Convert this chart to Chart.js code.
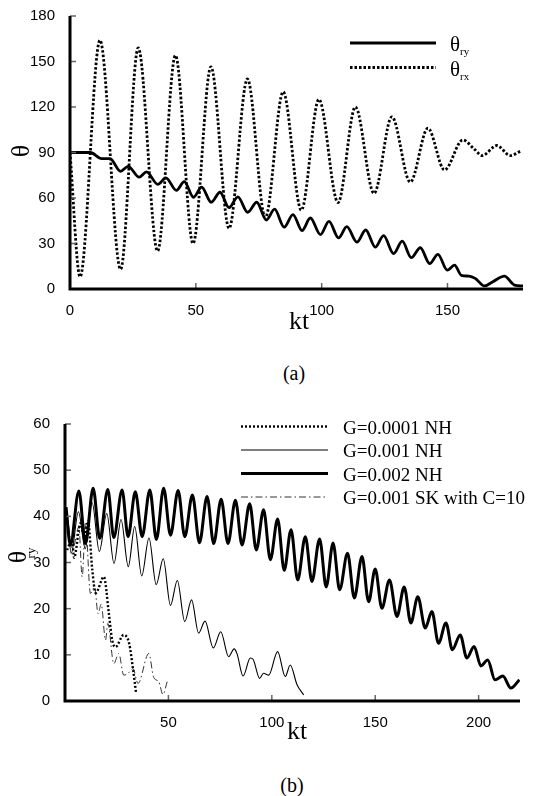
<!DOCTYPE html>
<html>
<head>
<meta charset="utf-8">
<script src="https://cdn.jsdelivr.net/npm/chart.js@4.4.1/dist/chart.umd.min.js"></script>
<style>
  body { margin: 0; background: #fff; width: 538px; height: 796px; position: relative; overflow: hidden; }
  canvas { position: absolute; left: 0; }
  #chartA { top: 0; }
  #chartB { top: 390px; }
  .cap { position: absolute; font-family: "Liberation Serif", "DejaVu Serif", serif; font-size: 20px; color: #000;
         transform: translate(-50%, -50%); }
</style>
</head>
<body>
<canvas id="chartA" width="538" height="340"></canvas>
<div class="cap" style="left:294px; top:373px">(a)</div>
<canvas id="chartB" width="538" height="360"></canvas>
<div class="cap" style="left:292px; top:785px">(b)</div>

<script>
// ---------- panel (a) ----------
const ktRy = [0, 8, 12.6, 15.9, 20.1, 23.1, 27.5, 30.4, 34.9, 38.1, 42.3, 45.4, 49.1, 52.3, 56.1, 59.6, 63.2, 66.7, 70.6, 74.2,
  78, 81.3, 85.1, 88.6, 92.2, 95.5, 99.5, 102.9, 106.7, 110, 114, 117.5, 121.3, 124.6, 128.6, 132, 135.6, 139.2, 142.9, 146.2,
  149.9, 152.8, 155.5, 158.5, 161, 164.7, 168, 172.6, 176.6, 180];
const thetaRy = [90, 90, 86, 85.9, 77.6, 80.9, 73.7, 77.2, 69, 73.3, 65, 70.8, 60.5, 67.2, 57.2, 63.8, 53.7, 60.7, 50.6, 57.2,
  45.5, 52.6, 40.8, 49.1, 38.5, 46.8, 35.9, 44.6, 33.7, 41.1, 30.9, 38.9, 27.6, 35.2, 23.3, 31.5, 20.7, 27.2, 16.8, 22.8,
  12.4, 15.7, 9, 8.5, 7, 2, 4.8, 8.5, 2.6, 2];

const ktRx = [0, 4, 11.9, 20.1, 27.1, 34.8, 41.9, 48.9, 56, 63.2, 70.5, 77.6, 84.7, 91.9, 98.9, 106.5, 113.4, 120.8, 127.9, 135.2,
  142.2, 148.8, 156.1, 160.5, 163.8, 169.6, 174.9, 179.2];
const thetaRx = [90, 8, 164, 13, 159, 25, 154, 30, 146.5, 40, 138.5, 47, 130, 52, 125, 57, 120, 63, 113.5, 70.5,
  106, 78.5, 98.3, 92.5, 88, 94.6, 88, 91];

const xTicksA = [0, 50, 100, 150];
const yTicksA = [0, 30, 60, 90, 120, 150, 180];

// ---------- panel (b) ----------
const ktG1 = [1, 3.4, 4.4, 7.5, 9.3, 11.1, 13.2, 14.8, 18.8, 21.2, 22.8, 24.4, 28.4, 31, 33, 34.4];
const thG1 = [32.7, 34.9, 31, 38.5, 35.5, 39, 28.4, 23.4, 26.9, 19, 13.2, 11.7, 14.3, 12.5, 6.5, 1.6];

const ktG2 = [1, 3, 6.5, 9.8, 13.1, 16.6, 20.2, 23.7, 27.1, 30.6, 33.7, 37.1, 40.6, 44.1, 47.5, 51, 54.3, 57.9, 61.2, 64.6,
  67.7, 71.7, 75.3, 79.1, 81.8, 83.2, 86.1, 89.6, 91, 94.1, 96, 98.5, 102.8, 106.5, 108.9, 112.2, 115.4];
const thG2 = [40.8, 32, 41, 33, 43, 32.4, 40.6, 29.8, 39.3, 29.1, 37.8, 27.1, 35.3, 25.2, 30.8, 20.7, 26.1, 17.2, 21.9, 14.7,
  17.3, 11.5, 15, 9.6, 11.3, 10.2, 5.4, 9.3, 9.0, 4.9, 6, 5.6, 10.7, 5.3, 7.8, 3.5, 1.3];

const ktG3 = [0.5, 2.6, 6.7, 9.9, 13.6, 16.8, 20.7, 23.6, 27.6, 30.5, 34.0, 37.3, 41.0, 44.2, 47.7, 51.0, 54.7, 57.9, 61.6, 65.0,
  68.7, 71.9, 75.5, 78.8, 82.4, 85.6, 89.3, 92.5, 96.0, 99.3, 102.8, 106.0, 109.3, 112.5, 116.2, 119.4, 123.1, 126.3, 129.6, 132.8,
  136.6, 139.9, 143.6, 146.8, 150.0, 153.2, 156.9, 160.5, 164.0, 167.2, 170.6, 174.2, 177.4, 180.6, 184.2, 187.3, 191.1, 194.3, 197.8, 201.1,
  204.4, 207.9, 211.7, 215.6, 219.7];
const thG3 = [42, 33.8, 45.5, 34.1, 46.1, 35.2, 45.8, 35.4, 45.7, 35.6, 45.3, 35.6, 45.7, 35.0, 46.1, 35.9, 45.6, 35.6, 44.6, 34.3,
  44.3, 34.1, 43.7, 34.1, 43.5, 33.8, 42.7, 32.7, 41.4, 30.6, 39.4, 28.3, 37.1, 26.2, 35.6, 25.9, 35.1, 24.7, 34.2, 24.1,
  32.0, 22.3, 31.3, 21.5, 28.6, 20.1, 26.2, 18.3, 24.7, 16.9, 22.6, 15.8, 19.4, 12.5, 16.9, 11.1, 14.3, 9.3, 11.8, 7.6,
  8.9, 4.6, 5.4, 2.8, 4.6];

const ktSK = [1, 3.6, 6.7, 8.3, 9.9, 12.3, 14.3, 16, 17.5, 19.6, 20.7, 23.6, 26, 28.4, 30.5, 32.9, 35.3, 40.5, 42.9, 45.3, 47.4, 49.4];
const thSK = [41, 32.7, 37.7, 26.9, 38.5, 23.3, 24.7, 18.9, 21, 13.2, 16.8, 8.1, 10.3, 5.6, 6, 7, 3.8, 10.3, 5.1, 4.2, 1.4, 4.2];

const labelsB = ['G=0.0001 NH', 'G=0.001 NH', 'G=0.002 NH', 'G=0.001 SK with C=10'];
const xTicksB = [50, 100, 150, 200];
const yTicksB = [0, 10, 20, 30, 40, 50, 60];

// ---------- helpers ----------
const SERIF = '"Liberation Serif", "DejaVu Serif", serif';
const SANS = '"Liberation Sans", Arial, sans-serif';
const pts = (xs, ys) => xs.map((x, i) => ({ x, y: ys[i] }));

function line(label, xs, ys, width, dash, color) {
  return {
    label, data: pts(xs, ys),
    borderColor: color || '#000', borderWidth: width, borderDash: dash || [],
    pointRadius: 0, fill: false, cubicInterpolationMode: 'monotone'
  };
}

function axes(xMin, xMax, xTicks, yMin, yMax, yTicks, yWidth, xHeight) {
  const font = { family: SANS, size: 15 };
  return {
    x: {
      type: 'linear', min: xMin, max: xMax,
      afterBuildTicks: s => { s.ticks = xTicks.map(v => ({ value: v })); },
      afterFit: s => { s.height = xHeight; },
      grid: { display: false }, border: { display: false },
      ticks: { color: '#000', font, padding: 5, autoSkip: false, maxRotation: 0 }
    },
    y: {
      type: 'linear', min: yMin, max: yMax,
      afterBuildTicks: s => { s.ticks = yTicks.map(v => ({ value: v })); },
      afterFit: s => { s.width = yWidth; },
      grid: { display: false }, border: { display: false },
      ticks: { color: '#000', font, padding: 7, autoSkip: false }
    }
  };
}

// heavy axis lines + inward tick marks
const frame = {
  id: 'frame',
  afterDatasetsDraw(chart) {
    const { ctx, chartArea: a, scales: { x, y } } = chart;
    ctx.save();
    ctx.strokeStyle = '#666';
    ctx.lineWidth = 1.5;
    x.ticks.forEach(t => {
      const p = x.getPixelForValue(t.value);
      ctx.beginPath(); ctx.moveTo(p, a.bottom); ctx.lineTo(p, a.bottom - 6); ctx.stroke();
    });
    y.ticks.forEach(t => {
      const p = y.getPixelForValue(t.value);
      ctx.beginPath(); ctx.moveTo(a.left, p); ctx.lineTo(a.left + 6, p); ctx.stroke();
    });
    ctx.strokeStyle = '#000';
    ctx.lineWidth = 3;
    ctx.beginPath();
    ctx.moveTo(a.left, a.top);
    ctx.lineTo(a.left, a.bottom);
    ctx.lineTo(a.right, a.bottom);
    ctx.stroke();
    ctx.restore();
  }
};

function subText(ctx, x, y, main, sub, size, subSize) {
  ctx.font = size + 'px ' + SERIF;
  ctx.fillText(main, x, y);
  const w = ctx.measureText(main).width;
  ctx.font = subSize + 'px ' + SERIF;
  ctx.fillText(sub, x + w, y + 4);
}

function legendLine(ctx, ds, x0, x1, y) {
  ctx.save();
  ctx.strokeStyle = ds.borderColor;
  ctx.lineWidth = ds.borderWidth;
  ctx.setLineDash(ds.borderDash || []);
  ctx.beginPath(); ctx.moveTo(x0, y); ctx.lineTo(x1, y); ctx.stroke();
  ctx.restore();
}

// ---------- chart (a) ----------
const decorA = {
  id: 'decorA',
  afterDraw(chart) {
    const ctx = chart.ctx;
    ctx.save();
    ctx.fillStyle = '#000';
    ctx.font = '26px ' + SERIF;
    ctx.textAlign = 'center'; ctx.textBaseline = 'middle';
    ctx.fillText('kt', 299, 322);
    ctx.save();
    ctx.translate(22, 151); ctx.rotate(-Math.PI / 2);
    ctx.fillText('\u03b8', 0, 0);
    ctx.restore();
    ctx.textAlign = 'left'; ctx.textBaseline = 'alphabetic';
    const rows = [43, 67.5];
    const subs = ['ry', 'rx'];
    chart.data.datasets.forEach((ds, i) => {
      legendLine(ctx, ds, 350, 436, rows[i]);
      subText(ctx, 450, rows[i] + 8, '\u03b8', subs[i], 21, 11);
    });
    ctx.restore();
  }
};

new Chart(document.getElementById('chartA'), {
  type: 'line',
  data: {
    datasets: [
      line('\u03b8ry', ktRy, thetaRy, 2.8),
      line('\u03b8rx', ktRx, thetaRx, 2.8, [2.5, 2])
    ]
  },
  options: {
    responsive: false, animation: false,
    layout: { padding: { left: 0, right: 15, top: 13, bottom: 0 } },
    plugins: { legend: { display: false }, tooltip: { enabled: false } },
    scales: axes(0, 180, xTicksA, 0, 180, yTicksA, 70, 51)
  },
  plugins: [frame, decorA]
});

// ---------- chart (b) ----------
const decorB = {
  id: 'decorB',
  afterDraw(chart) {
    const ctx = chart.ctx;
    ctx.save();
    ctx.fillStyle = '#000';
    ctx.font = '26px ' + SERIF;
    ctx.textAlign = 'center'; ctx.textBaseline = 'middle';
    ctx.fillText('kt', 297, 342);
    ctx.save();
    ctx.translate(19, 167); ctx.rotate(-Math.PI / 2);
    ctx.fillText('\u03b8', 0, 0);
    ctx.font = '13px ' + SERIF;
    ctx.fillText('ry', 4, 13);
    ctx.restore();
    ctx.textAlign = 'left'; ctx.textBaseline = 'alphabetic';
    ctx.font = '19px ' + SERIF;
    const rows = [36.5, 60, 83.5, 107];
    chart.data.datasets.forEach((ds, i) => {
      legendLine(ctx, ds, 241, 328, rows[i]);
      ctx.fillText(ds.label, 343, rows[i] + 7);
    });
    ctx.restore();
  }
};

new Chart(document.getElementById('chartB'), {
  type: 'line',
  data: {
    datasets: [
      line(labelsB[0], ktG1, thG1, 2.4, [2, 2]),
      line(labelsB[1], ktG2, thG2, 1.1),
      line(labelsB[2], ktG3, thG3, 3),
      line(labelsB[3], ktSK, thSK, 1, [7, 3, 1.5, 3], '#333')
    ]
  },
  options: {
    responsive: false, animation: false,
    layout: { padding: { left: 0, right: 18, top: 34, bottom: 0 } },
    plugins: { legend: { display: false }, tooltip: { enabled: false } },
    scales: axes(0, 220, xTicksB, 0, 60, yTicksB, 65, 49)
  },
  plugins: [frame, decorB]
});
</script>
</body>
</html>
